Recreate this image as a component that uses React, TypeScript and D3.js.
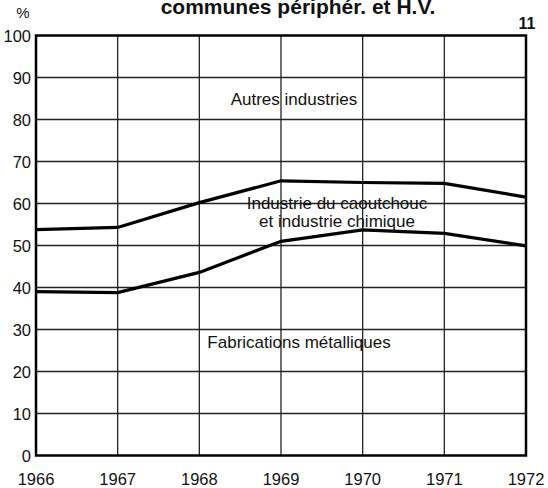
import React from "react";
import * as d3 from "d3";

const years = [1966, 1967, 1968, 1969, 1970, 1971, 1972];
const upperLine = [53.8, 54.3, 60.2, 65.4, 65.0, 64.8, 61.5];
const lowerLine = [39.0, 38.8, 43.6, 51.0, 53.7, 52.9, 49.9];
const yTicks = [0, 10, 20, 30, 40, 50, 60, 70, 80, 90, 100];

const W = 548, H = 488;
const M = { left: 36, right: 526, top: 35.5, bottom: 455.5 };

export default function App() {
  const x = d3.scaleLinear().domain([1966, 1972]).range([M.left, M.right]);
  const y = d3.scaleLinear().domain([0, 100]).range([M.bottom, M.top]);
  const line = d3
    .line<number>()
    .x((_, i) => x(years[i]))
    .y((d) => y(d));
  const font = "'Liberation Sans', Arial, sans-serif";
  return (
    <svg
      width={W}
      height={H}
      style={{ position: "absolute", left: 0, top: 0, background: "#fff" }}
      fontFamily={font}
    >
      <rect width={W} height={H} fill="#fff" />
      {yTicks.slice(1, -1).map((t) => (
        <line key={"h" + t} x1={M.left} x2={M.right} y1={y(t)} y2={y(t)} stroke="#222" strokeWidth={1.3} />
      ))}
      {years.slice(1, -1).map((yr) => (
        <line key={"v" + yr} x1={x(yr)} x2={x(yr)} y1={M.top} y2={M.bottom} stroke="#222" strokeWidth={1.3} />
      ))}
      <rect x={M.left} y={M.top} width={M.right - M.left} height={M.bottom - M.top} fill="none" stroke="#000" strokeWidth={2.5} />
      <path d={line(upperLine) || ""} fill="none" stroke="#000" strokeWidth={3.2} />
      <path d={line(lowerLine) || ""} fill="none" stroke="#000" strokeWidth={3.2} />
      {yTicks.map((t) => (
        <text key={"yl" + t} x={31} y={y(t) + 6} textAnchor="end" fontSize={16.5} fill="#111">
          {t}
        </text>
      ))}
      {years.map((yr) => (
        <text key={"xl" + yr} x={x(yr)} y={485} textAnchor="middle" fontSize={16.5} fill="#111">
          {yr}
        </text>
      ))}
      <text x={23} y={18} textAnchor="middle" fontSize={15} fill="#111">%</text>
      <text x={527} y={29} textAnchor="middle" fontSize={16} fontWeight="bold" fill="#111">11</text>
      <text x={298} y={14} textAnchor="middle" fontSize={21} fontWeight="bold" fill="#111">
        communes périphér. et H.V.
      </text>
      <text x={294} y={105} textAnchor="middle" fontSize={17} fill="#111">Autres industries</text>
      <text x={337} y={209} textAnchor="middle" fontSize={17} fill="#111">Industrie du caoutchouc</text>
      <text x={337} y={227} textAnchor="middle" fontSize={17} fill="#111">et industrie chimique</text>
      <text x={299} y={348} textAnchor="middle" fontSize={17} fill="#111">Fabrications métalliques</text>
    </svg>
  );
}
